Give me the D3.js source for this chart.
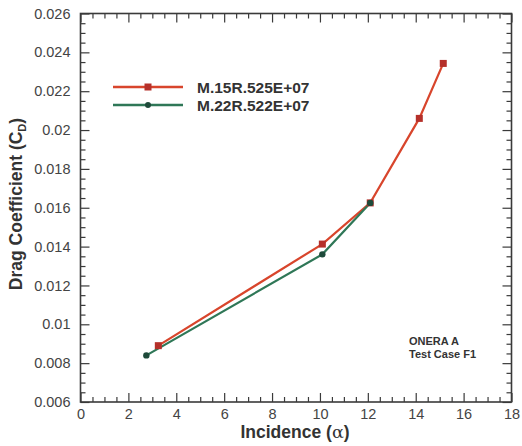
<!DOCTYPE html>
<html>
<head>
<meta charset="utf-8">
<script src="https://cdn.jsdelivr.net/npm/d3@7"></script>
<style>
  html, body { margin: 0; padding: 0; background: #fff; }
  svg { display: block; font-family: "Liberation Sans", Arial, Helvetica, sans-serif; }
</style>
</head>
<body>
<svg id="chart" width="522" height="446"></svg>
<script>
// ---- data ----
const seriesNames = ["M.15R.525E+07", "M.22R.522E+07"];
const seriesAlpha1 = [3.25, 10.1, 12.1, 14.15, 15.15];
const seriesCd1    = [0.0089, 0.01413, 0.01625, 0.0206, 0.02343];
const seriesAlpha2 = [2.75, 10.1, 12.1];
const seriesCd2    = [0.0084, 0.0136, 0.01625];
const xTickValues  = [0, 2, 4, 6, 8, 10, 12, 14, 16, 18];
const xTickLabels  = ["0", "2", "4", "6", "8", "10", "12", "14", "16", "18"];
const yTickValues  = [0.006, 0.008, 0.01, 0.012, 0.014, 0.016, 0.018, 0.02, 0.022, 0.024, 0.026];
const yTickLabels  = ["0.006", "0.008", "0.01", "0.012", "0.014", "0.016", "0.018", "0.02", "0.022", "0.024", "0.026"];
const annotationLines = ["ONERA A", "Test Case F1"];

// ---- layout ----
const svg = d3.select("#chart");
const m = { left: 80.5, top: 13.5, right: 511.5, bottom: 402 };
const x = d3.scaleLinear().domain([0, 18]).range([m.left, m.right]);
const y = d3.scaleLinear().domain([0.006, 0.026]).range([m.bottom, m.top]);
const frameColor = "#3a3a3a";
const labelColor = "#444";

const xMinor = d3.range(0, 18.001, 0.5).filter(v => Math.abs(v / 2 - Math.round(v / 2)) > 1e-6);
const yMinor = d3.range(0, 41).map(i => 0.006 + i * 0.0005).filter(v => Math.abs(v / 0.002 - Math.round(v / 0.002)) > 1e-6);

function styleAxis(g) {
  g.select(".domain").remove();
  g.selectAll(".tick line").attr("stroke", frameColor).attr("stroke-width", 1.2);
}

// bottom major
svg.append("g").attr("transform", `translate(0,${m.bottom})`)
  .call(d3.axisBottom(x).tickValues(xTickValues).tickSize(-9).tickPadding(7)
    .tickFormat((d, i) => xTickLabels[i]))
  .call(styleAxis)
  .call(g => g.selectAll("text").attr("fill", labelColor).attr("font-size", 14.5)
    .attr("font-family", "Liberation Sans, Arial, sans-serif"));
// bottom minor
svg.append("g").attr("transform", `translate(0,${m.bottom})`)
  .call(d3.axisBottom(x).tickValues(xMinor).tickSize(-5).tickFormat(""))
  .call(styleAxis);
// top
svg.append("g").attr("transform", `translate(0,${m.top})`)
  .call(d3.axisTop(x).tickValues(xTickValues).tickSize(-9).tickFormat(""))
  .call(styleAxis);
svg.append("g").attr("transform", `translate(0,${m.top})`)
  .call(d3.axisTop(x).tickValues(xMinor).tickSize(-5).tickFormat(""))
  .call(styleAxis);
// left
svg.append("g").attr("transform", `translate(${m.left},0)`)
  .call(d3.axisLeft(y).tickValues(yTickValues).tickSize(-9).tickPadding(10)
    .tickFormat((d, i) => yTickLabels[i]))
  .call(styleAxis)
  .call(g => g.selectAll("text").attr("fill", labelColor).attr("font-size", 14.5)
    .attr("font-family", "Liberation Sans, Arial, sans-serif"));
svg.append("g").attr("transform", `translate(${m.left},0)`)
  .call(d3.axisLeft(y).tickValues(yMinor).tickSize(-5).tickFormat(""))
  .call(styleAxis);
// right
svg.append("g").attr("transform", `translate(${m.right},0)`)
  .call(d3.axisRight(y).tickValues(yTickValues).tickSize(-9).tickFormat(""))
  .call(styleAxis);
svg.append("g").attr("transform", `translate(${m.right},0)`)
  .call(d3.axisRight(y).tickValues(yMinor).tickSize(-5).tickFormat(""))
  .call(styleAxis);

// frame
svg.append("rect")
  .attr("x", m.left).attr("y", m.top)
  .attr("width", m.right - m.left).attr("height", m.bottom - m.top)
  .attr("fill", "none").attr("stroke", frameColor).attr("stroke-width", 1.6);

// series
const red = "#d8452c", redMark = "#b5302a";
const green = "#2f7757", greenMark = "#1e4a3a";
const line = d3.line().x(d => x(d[0])).y(d => y(d[1]));
const s1 = seriesAlpha1.map((a, i) => [a, seriesCd1[i]]);
const s2 = seriesAlpha2.map((a, i) => [a, seriesCd2[i]]);

svg.append("path").datum(s1).attr("d", line)
  .attr("fill", "none").attr("stroke", red).attr("stroke-width", 2.2);
svg.append("path").datum(s2).attr("d", line)
  .attr("fill", "none").attr("stroke", green).attr("stroke-width", 2.2);

svg.selectAll(".m1").data(s1).enter().append("rect")
  .attr("x", d => x(d[0]) - 3.5).attr("y", d => y(d[1]) - 3.5)
  .attr("width", 7).attr("height", 7).attr("fill", redMark);
svg.selectAll(".m2").data(s2).enter().append("circle")
  .attr("cx", d => x(d[0])).attr("cy", d => y(d[1])).attr("r", 3.2)
  .attr("fill", greenMark);

// legend
const leg = svg.append("g");
const legY = [87, 105];
const legColors = [red, green];
legY.forEach((ly, i) => {
  leg.append("line").attr("x1", 113).attr("x2", 183).attr("y1", ly).attr("y2", ly)
    .attr("stroke", legColors[i]).attr("stroke-width", 2.4);
  if (i === 0) {
    leg.append("rect").attr("x", 148 - 3.5).attr("y", ly - 3.5).attr("width", 7).attr("height", 7)
      .attr("fill", redMark);
  } else {
    leg.append("circle").attr("cx", 148).attr("cy", ly).attr("r", 3).attr("fill", greenMark);
  }
  leg.append("text").attr("x", 197).attr("y", ly + 6)
    .attr("font-size", 15.5).attr("font-weight", "bold").attr("fill", "#333")
    .text(seriesNames[i]);
});

// annotation
annotationLines.forEach((t, i) => {
  svg.append("text").attr("x", 409).attr("y", 345 + i * 13)
    .attr("font-size", 11).attr("font-weight", "bold").attr("fill", "#333")
    .text(t);
});

// axis titles
const xt = svg.append("text").attr("x", 295).attr("y", 438)
  .attr("text-anchor", "middle").attr("font-size", 17.5).attr("font-weight", "bold").attr("fill", "#333");
xt.append("tspan").text("Incidence (");
xt.append("tspan").attr("font-weight", "normal").attr("font-family", "DejaVu Serif, serif").text("α");
xt.append("tspan").text(")");

const yt = svg.append("text").attr("transform", "translate(22,204) rotate(-90)")
  .attr("text-anchor", "middle").attr("font-size", 17.5).attr("font-weight", "bold").attr("fill", "#333");
yt.append("tspan").text("Drag Coefficient (C");
yt.append("tspan").attr("font-size", 11).attr("dy", 4).text("D");
yt.append("tspan").attr("dy", -4).text(")");
</script>
</body>
</html>
